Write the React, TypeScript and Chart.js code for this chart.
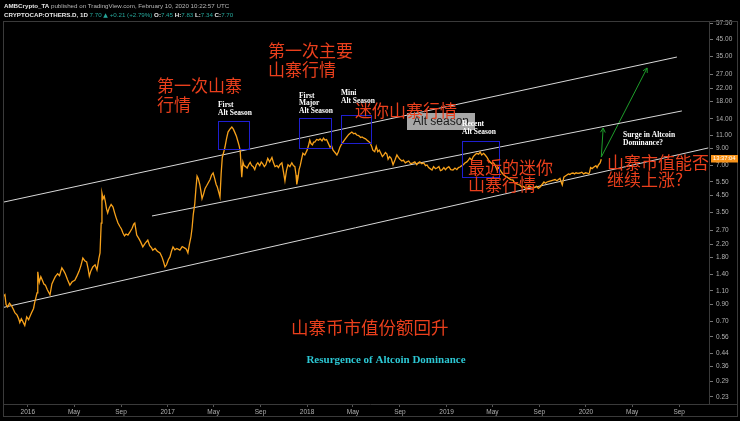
import React, { useEffect, useRef } from "react";
import { Chart, registerables } from "chart.js";
Chart.register(...registerables);

// ---- Data (CRYPTOCAP:OTHERS.D, daily, %) ----
const lineDates = [
  "2015-10-28","2015-11-02","2015-11-05","2015-11-09","2015-11-14","2015-11-20","2015-11-25","2015-11-28",
  "2015-12-04","2015-12-08","2015-12-11","2015-12-15","2015-12-19","2015-12-24","2015-12-29",
  "2016-01-03","2016-01-07","2016-01-11","2016-01-16","2016-01-19","2016-01-23","2016-01-25","2016-01-27","2016-01-31",
  "2016-02-04","2016-02-08","2016-02-12","2016-02-16","2016-02-21","2016-02-28",
  "2016-03-04","2016-03-09","2016-03-13","2016-03-19","2016-03-24","2016-03-30",
  "2016-04-04","2016-04-08","2016-04-14","2016-04-20","2016-04-26",
  "2016-05-03","2016-05-09","2016-05-14","2016-05-19","2016-05-24","2016-05-29",
  "2016-06-03","2016-06-07","2016-06-10","2016-06-14","2016-06-19","2016-06-25","2016-06-30",
  "2016-07-05","2016-07-08","2016-07-11","2016-07-13","2016-07-16","2016-07-19","2016-07-22","2016-07-25","2016-07-28",
  "2016-08-01","2016-08-06","2016-08-11","2016-08-15","2016-08-19","2016-08-24","2016-08-29",
  "2016-09-02","2016-09-06","2016-09-10","2016-09-14","2016-09-19","2016-09-24","2016-09-30",
  "2016-10-04","2016-10-07","2016-10-10","2016-10-12","2016-10-17","2016-10-22","2016-10-28",
  "2016-11-03","2016-11-10","2016-11-15","2016-11-20","2016-11-23","2016-11-29",
  "2016-12-05","2016-12-12","2016-12-17","2016-12-21","2016-12-25","2016-12-29",
  "2017-01-03","2017-01-07","2017-01-11","2017-01-15","2017-01-20","2017-01-25",
  "2017-02-02","2017-02-08","2017-02-15","2017-02-19","2017-02-23","2017-02-27",
  "2017-03-03","2017-03-06","2017-03-09","2017-03-13","2017-03-16","2017-03-19","2017-03-22","2017-03-26","2017-03-29",
  "2017-04-01","2017-04-05","2017-04-09","2017-04-13","2017-04-17","2017-04-22","2017-04-26","2017-04-30",
  "2017-05-04","2017-05-08","2017-05-11","2017-05-15","2017-05-18","2017-05-21","2017-05-24","2017-05-28","2017-05-31",
  "2017-06-04","2017-06-08","2017-06-13","2017-06-18","2017-06-22","2017-06-26","2017-06-30",
  "2017-07-04","2017-07-07","2017-07-10","2017-07-12","2017-07-14","2017-07-17","2017-07-20","2017-07-24","2017-07-28",
  "2017-08-01","2017-08-05","2017-08-09","2017-08-13","2017-08-17","2017-08-21","2017-08-25","2017-08-30",
  "2017-09-03","2017-09-07","2017-09-11","2017-09-15","2017-09-20","2017-09-25",
  "2017-10-01","2017-10-05","2017-10-09","2017-10-14","2017-10-18","2017-10-22","2017-10-27","2017-10-31",
  "2017-11-04","2017-11-08","2017-11-12","2017-11-17","2017-11-22","2017-11-26","2017-11-30",
  "2017-12-03","2017-12-05","2017-12-08","2017-12-11","2017-12-14","2017-12-18","2017-12-21","2017-12-26",
  "2018-01-01","2018-01-05","2018-01-08","2018-01-11","2018-01-15","2018-01-18","2018-01-21","2018-01-26","2018-01-31",
  "2018-02-04","2018-02-09","2018-02-13","2018-02-17","2018-02-21","2018-02-25",
  "2018-03-02","2018-03-06","2018-03-10","2018-03-15","2018-03-20","2018-03-24","2018-03-28",
  "2018-04-01","2018-04-05","2018-04-10","2018-04-15","2018-04-20","2018-04-24","2018-04-28",
  "2018-05-03","2018-05-07","2018-05-11","2018-05-16","2018-05-21","2018-05-25","2018-05-30",
  "2018-06-03","2018-06-07","2018-06-11","2018-06-15","2018-06-19","2018-06-22","2018-06-27",
  "2018-07-01","2018-07-05","2018-07-09","2018-07-13","2018-07-17","2018-07-21","2018-07-25","2018-07-29",
  "2018-08-01","2018-08-05","2018-08-09","2018-08-14","2018-08-19","2018-08-24","2018-08-28",
  "2018-09-01","2018-09-06","2018-09-10","2018-09-15","2018-09-19","2018-09-24","2018-09-29",
  "2018-10-05","2018-10-10","2018-10-15","2018-10-19","2018-10-23","2018-10-28",
  "2018-11-02","2018-11-07","2018-11-11","2018-11-15","2018-11-19","2018-11-24","2018-11-28",
  "2018-12-03","2018-12-07","2018-12-12","2018-12-16","2018-12-20","2018-12-25","2018-12-29",
  "2019-01-02","2019-01-07","2019-01-12","2019-01-18","2019-01-23","2019-01-28",
  "2019-02-01","2019-02-05","2019-02-10","2019-02-14","2019-02-18","2019-02-23","2019-02-27",
  "2019-03-03","2019-03-08","2019-03-12","2019-03-16","2019-03-21","2019-03-26","2019-03-30",
  "2019-04-03","2019-04-08","2019-04-12","2019-04-17","2019-04-21","2019-04-25","2019-04-30",
  "2019-05-04","2019-05-08","2019-05-13","2019-05-17","2019-05-21","2019-05-26","2019-05-31",
  "2019-06-04","2019-06-08","2019-06-13","2019-06-18","2019-06-24","2019-06-29",
  "2019-07-04","2019-07-08","2019-07-12","2019-07-17","2019-07-22","2019-07-27","2019-07-31",
  "2019-08-05","2019-08-10","2019-08-15","2019-08-20","2019-08-25","2019-08-29",
  "2019-09-03","2019-09-08","2019-09-13","2019-09-17","2019-09-21","2019-09-26",
  "2019-10-01","2019-10-07","2019-10-12","2019-10-17","2019-10-21","2019-10-25","2019-10-28","2019-10-31",
  "2019-11-04","2019-11-08","2019-11-12","2019-11-16","2019-11-20","2019-11-24","2019-11-28",
  "2019-12-02","2019-12-06","2019-12-11","2019-12-16","2019-12-21","2019-12-26","2019-12-31",
  "2020-01-04","2020-01-08","2020-01-10","2020-01-13","2020-01-17","2020-01-22","2020-01-27",
  "2020-01-30","2020-02-03","2020-02-07","2020-02-10"
];
const lineValues = [
  1.01,1.04,0.90,0.87,0.92,0.88,0.83,0.80,
  0.77,0.73,0.69,0.73,0.70,0.66,0.75,
  0.72,0.76,0.80,0.85,0.93,1.02,1.07,1.46,1.25,
  1.36,1.29,1.22,1.20,1.12,1.04,
  1.22,1.30,1.36,1.42,1.38,1.55,
  1.48,1.42,1.30,1.20,1.26,
  1.29,1.38,1.47,1.60,1.79,1.72,
  1.69,1.52,1.37,1.48,1.57,1.62,1.50,
  1.78,1.93,3.00,4.67,4.30,4.45,4.10,3.70,3.48,
  3.75,3.95,3.80,3.50,3.25,3.00,2.85,
  2.75,2.59,2.48,2.55,2.51,2.62,2.78,
  2.95,3.00,2.70,2.51,2.40,2.28,2.11,
  2.22,2.33,2.15,2.08,2.01,2.06,
  1.98,1.93,1.82,1.70,1.57,1.62,
  1.75,1.82,1.98,2.11,2.02,2.06,
  2.01,2.12,2.07,2.04,1.93,2.20,
  2.45,2.80,3.40,4.00,5.00,6.00,5.80,5.30,4.80,
  4.30,4.60,5.00,5.20,5.42,5.70,6.10,6.28,
  5.80,5.30,5.11,4.70,4.41,6.20,7.90,8.60,9.22,
  10.40,11.50,12.00,12.39,12.00,11.40,10.80,
  10.00,9.40,8.70,7.00,5.90,7.40,7.00,6.90,6.75,
  7.10,7.35,7.00,6.90,6.60,7.10,7.30,7.00,
  7.40,7.20,6.90,7.10,7.80,7.40,
  7.90,7.30,6.90,7.00,6.80,7.10,7.30,6.40,
  5.60,6.50,7.10,6.90,7.30,7.00,6.90,
  6.10,5.30,5.80,6.60,7.00,7.80,8.40,8.20,
  8.80,9.50,10.20,9.70,9.50,9.90,9.90,10.30,10.20,
  10.40,10.10,10.50,10.20,10.30,9.80,
  9.20,9.40,8.80,8.50,8.20,8.60,9.20,
  9.60,9.90,10.30,10.70,11.10,11.30,11.50,
  11.20,11.30,11.00,10.90,10.60,10.70,10.50,
  10.40,10.20,10.00,9.80,9.30,8.80,8.60,
  9.30,8.60,8.80,8.40,8.00,8.20,8.50,8.30,
  7.70,8.00,7.80,7.10,7.60,8.20,7.90,
  7.70,7.50,7.60,7.30,7.40,7.50,7.20,
  7.30,7.40,7.10,7.30,7.40,7.20,
  7.30,7.00,7.07,6.80,6.70,6.57,6.90,
  6.70,6.76,6.90,6.50,6.57,6.80,6.60,
  6.76,6.90,6.60,6.57,6.75,6.60,
  6.80,6.86,7.00,7.10,7.28,7.40,7.60,
  7.84,7.60,8.00,8.19,8.40,8.30,8.56,
  8.20,8.40,8.19,7.90,7.60,7.39,7.20,
  7.30,7.07,6.60,6.80,6.57,6.30,6.10,
  6.00,5.92,5.80,5.70,5.66,5.40,
  5.35,5.30,5.26,5.10,5.15,5.00,5.03,
  5.20,5.10,5.03,5.08,5.15,5.00,
  5.11,5.30,5.50,5.40,5.50,5.55,
  5.60,5.66,5.70,5.60,5.70,5.80,5.50,5.26,
  5.90,6.00,6.10,6.20,6.15,6.25,6.28,
  6.20,6.30,6.25,6.28,6.35,6.20,6.30,
  6.28,6.20,6.30,6.80,6.70,6.86,7.00,
  6.80,7.10,7.28,7.70
];

const xTickDates = [
  "2016-01-01","2016-05-01","2016-09-01","2017-01-01","2017-05-01","2017-09-01",
  "2018-01-01","2018-05-01","2018-09-01","2019-01-01","2019-05-01","2019-09-01",
  "2020-01-01","2020-05-01","2020-09-01"
];
const xTickLabels = ["2016","May","Sep","2017","May","Sep","2018","May","Sep","2019","May","Sep","2020","May","Sep"];
const yTickValues = [57.5,45,35,27,22,18,14,11,9,7,5.5,4.5,3.5,2.7,2.2,1.8,1.4,1.1,0.9,0.7,0.56,0.44,0.36,0.29,0.23];

const xMinDate = "2015-10-28";
const xMaxDate = "2020-11-18";
const yMin = 0.2074;
const yMax = 59.24;

// channel lines and arrows drawn on the chart
const channelUpperDates = ["2015-10-28", "2020-08-26"];
const channelUpperValues = [4.08, 34.8];
const channelMiddleDates = ["2016-11-21", "2020-09-08"];
const channelMiddleValues = [3.33, 15.7];
const channelLowerDates = ["2015-10-28", "2020-11-16"];
const channelLowerValues = [0.862, 9.09];
const arrowShortDates = ["2020-02-10", "2020-02-15"];
const arrowShortValues = [7.95, 12.2];
const arrowLongDates = ["2020-02-10", "2020-06-09"];
const arrowLongValues = [7.95, 29.6];

// highlighted alt-season boxes
const boxStartDates = ["2017-05-12", "2017-12-10", "2018-03-30", "2019-02-10"];
const boxEndDates = ["2017-08-01", "2018-03-04", "2018-06-17", "2019-05-18"];
const boxLowValues = [8.95, 9.08, 9.78, 5.92];
const boxHighValues = [13.53, 14.14, 14.78, 10.07];

const dayOf = (s: string) =>
  (Date.UTC(+s.slice(0, 4), +s.slice(5, 7) - 1, +s.slice(8, 10)) - Date.UTC(2016, 0, 1)) / 86400000;

const pts = (dates: string[], vals: number[]) => dates.map((d, i) => ({ x: dayOf(d), y: vals[i] }));

const CJK = '"Noto Sans CJK SC", "Noto Sans", sans-serif';
const SERIF = '"Liberation Serif", "DejaVu Serif", serif';
const SANS = '"Liberation Sans", "DejaVu Sans", sans-serif';
const RED = "#ea3f1c";

type Txt = { t: string; x: number; y: number; font: string; color: string; align?: CanvasTextAlign };
const texts: Txt[] = [
  { t: "第一次山寨", x: 157, y: 86, font: `17px ${CJK}`, color: RED },
  { t: "行情", x: 157, y: 105, font: `17px ${CJK}`, color: RED },
  { t: "第一次主要", x: 268, y: 51, font: `17px ${CJK}`, color: RED },
  { t: "山寨行情", x: 268, y: 70, font: `17px ${CJK}`, color: RED },
  { t: "迷你山寨行情", x: 355, y: 111, font: `17px ${CJK}`, color: RED },
  { t: "最近的迷你", x: 468, y: 168, font: `17px ${CJK}`, color: RED },
  { t: "山寨行情", x: 468, y: 185, font: `17px ${CJK}`, color: RED },
  { t: "山寨市值能否", x: 607, y: 163, font: `17px ${CJK}`, color: RED },
  { t: "继续上涨?", x: 607, y: 180, font: `17px ${CJK}`, color: RED },
  { t: "山寨币市值份额回升", x: 291, y: 327, font: `17.5px ${CJK}`, color: RED },
  { t: "Resurgence of Altcoin Dominance", x: 386, y: 360, font: `bold 11px ${SERIF}`, color: "#2cc7d3", align: "center" },
  { t: "First", x: 218, y: 105, font: `bold 7.5px ${SERIF}`, color: "#ffffff" },
  { t: "Alt Season", x: 218, y: 113, font: `bold 7.5px ${SERIF}`, color: "#ffffff" },
  { t: "First", x: 299, y: 96, font: `bold 7.5px ${SERIF}`, color: "#ffffff" },
  { t: "Major", x: 299, y: 103.5, font: `bold 7.5px ${SERIF}`, color: "#ffffff" },
  { t: "Alt Season", x: 299, y: 111, font: `bold 7.5px ${SERIF}`, color: "#ffffff" },
  { t: "Mini", x: 341, y: 93, font: `bold 7.5px ${SERIF}`, color: "#ffffff" },
  { t: "Alt Season", x: 341, y: 101, font: `bold 7.5px ${SERIF}`, color: "#ffffff" },
  { t: "Recent", x: 462, y: 124, font: `bold 7.5px ${SERIF}`, color: "#ffffff" },
  { t: "Alt Season", x: 462, y: 132, font: `bold 7.5px ${SERIF}`, color: "#ffffff" },
  { t: "Surge in Altcoin", x: 623, y: 135, font: `bold 7.5px ${SERIF}`, color: "#ffffff" },
  { t: "Dominance?", x: 623, y: 143, font: `bold 7.5px ${SERIF}`, color: "#ffffff" },
];

const overlayPlugin = {
  id: "overlay",
  beforeDraw(chart: any) {
    const ctx = chart.ctx as CanvasRenderingContext2D;
    ctx.save();
    ctx.fillStyle = "#000";
    ctx.fillRect(0, 0, chart.width, chart.height);
    ctx.restore();
  },
  afterDatasetsDraw(chart: any) {
    const ctx = chart.ctx as CanvasRenderingContext2D;
    const xs = chart.scales.x;
    const ys = chart.scales.y;
    ctx.save();
    // boxes
    ctx.strokeStyle = "#1f1fd0";
    ctx.lineWidth = 1;
    boxStartDates.forEach((d, i) => {
      const x0 = Math.round(xs.getPixelForValue(dayOf(d))) + 0.5;
      const x1 = Math.round(xs.getPixelForValue(dayOf(boxEndDates[i]))) + 0.5;
      const y0 = Math.round(ys.getPixelForValue(boxHighValues[i])) + 0.5;
      const y1 = Math.round(ys.getPixelForValue(boxLowValues[i])) + 0.5;
      ctx.strokeRect(x0, y0, x1 - x0, y1 - y0);
    });
    // arrowheads
    ctx.strokeStyle = "#1e9e2a";
    ctx.lineWidth = 1;
    [4, 5].forEach((idx) => {
      const m = chart.getDatasetMeta(idx).data;
      if (!m || m.length < 2) return;
      const p0 = m[0], p1 = m[1];
      const a = Math.atan2(p1.y - p0.y, p1.x - p0.x);
      const L = 5;
      ctx.beginPath();
      ctx.moveTo(p1.x - L * Math.cos(a - 0.5), p1.y - L * Math.sin(a - 0.5));
      ctx.lineTo(p1.x, p1.y);
      ctx.lineTo(p1.x - L * Math.cos(a + 0.5), p1.y - L * Math.sin(a + 0.5));
      ctx.stroke();
    });
    // "Alt season" tag
    ctx.fillStyle = "rgba(185,185,185,0.9)";
    ctx.fillRect(407, 113, 68, 17);
    ctx.fillStyle = "#1a1a1a";
    ctx.font = `12px ${SANS}`;
    ctx.textBaseline = "middle";
    ctx.textAlign = "left";
    ctx.fillText("Alt season", 413, 122);
    // texts
    texts.forEach((tx) => {
      ctx.font = tx.font;
      ctx.fillStyle = tx.color;
      ctx.textAlign = tx.align || "left";
      ctx.textBaseline = "middle";
      ctx.fillText(tx.t, tx.x, tx.y);
    });
    ctx.restore();
  },
  afterDraw(chart: any) {
    const ctx = chart.ctx as CanvasRenderingContext2D;
    const ys = chart.scales.y;
    ctx.save();
    // frame
    ctx.strokeStyle = "#3a3a3a";
    ctx.lineWidth = 1;
    ctx.strokeRect(3.5, 21.5, 734, 395);
    ctx.beginPath();
    ctx.moveTo(3, 404.5);
    ctx.lineTo(738, 404.5);
    ctx.stroke();
    // header
    ctx.textBaseline = "middle";
    ctx.textAlign = "left";
    let x = 4;
    const seg = (t: string, font: string, color: string, y: number) => {
      ctx.font = font;
      ctx.fillStyle = color;
      ctx.fillText(t, x, y);
      x += ctx.measureText(t).width;
    };
    const B = `bold 6.2px ${SANS}`;
    const N = `6.2px ${SANS}`;
    seg("AMBCrypto_TA", B, "#e6e6e6", 6);
    seg(" published on TradingView.com, February 10, 2020 10:22:57 UTC", N, "#b8b8b8", 6);
    x = 4;
    const TEAL = "#26a69a";
    seg("CRYPTOCAP:OTHERS.D, 1D", B, "#e6e6e6", 15);
    seg(" 7.70 ", N, TEAL, 15);
    seg("▲", `6px "DejaVu Sans", sans-serif`, TEAL, 15);
    seg(" +0.21 (+2.79%) ", N, TEAL, 15);
    seg("O:", B, "#e6e6e6", 15);
    seg("7.45 ", N, TEAL, 15);
    seg("H:", B, "#e6e6e6", 15);
    seg("7.83 ", N, TEAL, 15);
    seg("L:", B, "#e6e6e6", 15);
    seg("7.34 ", N, TEAL, 15);
    seg("C:", B, "#e6e6e6", 15);
    seg("7.70", N, TEAL, 15);
    // last price label
    const py = Math.round(ys.getPixelForValue(lineValues[lineValues.length - 1]));
    ctx.fillStyle = "#f7931a";
    ctx.fillRect(711, py - 4, 27, 7.5);
    ctx.fillStyle = "#ffffff";
    ctx.font = `5.8px ${SANS}`;
    ctx.fillText("13:37:04", 713, py - 0.3);
    ctx.restore();
  },
};

export default function App() {
  const ref = useRef<HTMLCanvasElement | null>(null);
  useEffect(() => {
    if (!ref.current) return;
    const lineDs = (data: any[], color: string) => ({
      data,
      borderColor: color,
      borderWidth: 1,
      pointRadius: 0,
      tension: 0,
      fill: false,
    });
    const chart = new Chart(ref.current, {
      type: "line",
      data: {
        datasets: [
          { ...lineDs(pts(lineDates, lineValues), "#f7a11a"), borderWidth: 1.3 },
          lineDs(pts(channelUpperDates, channelUpperValues), "#d8d8d8"),
          lineDs(pts(channelMiddleDates, channelMiddleValues), "#d8d8d8"),
          lineDs(pts(channelLowerDates, channelLowerValues), "#d8d8d8"),
          lineDs(pts(arrowShortDates, arrowShortValues), "#1e9e2a"),
          lineDs(pts(arrowLongDates, arrowLongValues), "#1e9e2a"),
        ] as any,
      },
      options: {
        animation: false,
        responsive: false,
        events: [],
        layout: { padding: { top: 21, left: 3, right: 0, bottom: 3 } },
        plugins: { legend: { display: false }, tooltip: { enabled: false }, title: { display: false } },
        scales: {
          x: {
            type: "linear",
            bounds: "data",
            min: dayOf(xMinDate),
            max: dayOf(xMaxDate),
            afterBuildTicks: (s: any) => {
              s.ticks = xTickDates.map((d) => ({ value: dayOf(d) }));
            },
            afterFit: (s: any) => {
              s.height = 14;
            },
            grid: { drawOnChartArea: false, drawTicks: true, tickLength: 3, tickColor: "#555" },
            border: { display: false },
            ticks: {
              autoSkip: false,
              maxRotation: 0,
              padding: 1,
              color: "#b0b0b0",
              font: { size: 6.5, family: SANS },
              callback: (_v: any, i: number) => xTickLabels[i] ?? "",
            },
          },
          y: {
            type: "logarithmic",
            position: "right",
            bounds: "data",
            min: yMin,
            max: yMax,
            afterBuildTicks: (s: any) => {
              s.ticks = yTickValues.map((v) => ({ value: v }));
            },
            afterFit: (s: any) => {
              s.width = 31;
            },
            grid: { drawOnChartArea: false, drawTicks: true, tickLength: 4, tickColor: "#777" },
            border: { display: true, color: "#3a3a3a" },
            ticks: {
              autoSkip: false,
              padding: 3,
              color: "#b0b0b0",
              font: { size: 6.5, family: SANS },
              callback: (v: any) => Number(v).toFixed(2),
            },
          },
        },
      } as any,
      plugins: [overlayPlugin],
    });
    return () => chart.destroy();
  }, []);
  return (
    <div style={{ position: "absolute", left: 0, top: 0, width: 740, height: 421, background: "#000" }}>
      <canvas ref={ref} width={740} height={421} style={{ display: "block", width: 740, height: 421 }} />
    </div>
  );
}
